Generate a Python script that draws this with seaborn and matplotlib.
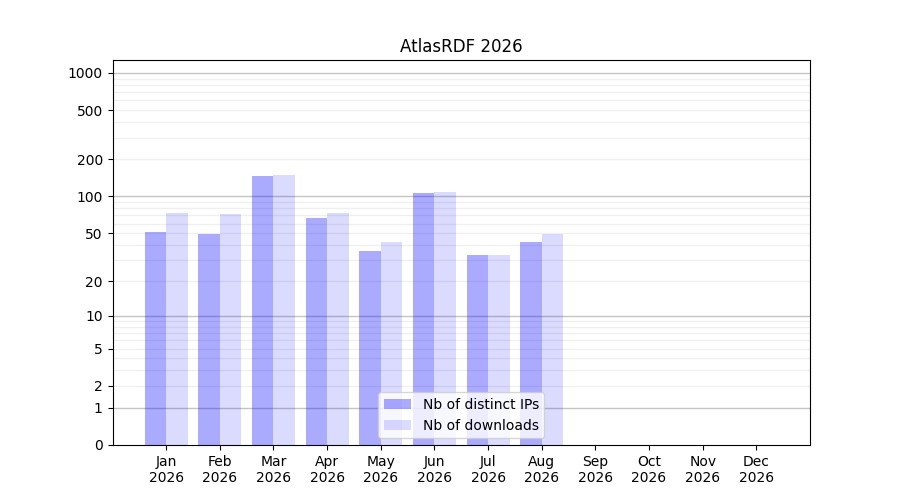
import numpy as np
import pandas as pd
import seaborn as sns
import matplotlib
matplotlib.use('Agg')
import matplotlib.pyplot as plt
from matplotlib.patches import Patch

months = ['Jan', 'Feb', 'Mar', 'Apr', 'May', 'Jun',
          'Jul', 'Aug', 'Sep', 'Oct', 'Nov', 'Dec']
year = 2026
distinct_ips = [51, 49, 147, 67, 36, 107, 33, 42, 0, 0, 0, 0]
downloads = [73, 72, 149, 73, 42, 109, 33, 49, 0, 0, 0, 0]
ytick_vals = [0, 1, 2, 5, 10, 20, 50, 100, 200, 500, 1000]

labels = ['Nb of distinct IPs', 'Nb of downloads']
df = pd.DataFrame({
    'mois': months * 2,
    'valeur': distinct_ips + downloads,
    'serie': [labels[0]] * 12 + [labels[1]] * 12,
})

fig, ax = plt.subplots(figsize=(9, 5), dpi=100)
sns.barplot(data=df, x='mois', y='valeur', hue='serie', order=months,
            hue_order=labels, palette=['blue', 'blue'], saturation=1,
            width=0.8, legend=False, ax=ax)

alphas = [1 / 3, 0.14]
for cont, a in zip(ax.containers, alphas):
    for p in cont:
        p.set_facecolor((0, 0, 1, a))
        p.set_edgecolor('none')

# echelle log(x+1)
ax.set_yscale('function', functions=(lambda v: np.log10(np.clip(v, 0, None) + 1),
                                     lambda v: 10 ** v - 1))
ax.set_ylim(0, 1272)
ax.set_xlim(-1, 12)
ax.set_yticks(ytick_vals)
ax.set_yticklabels([str(v) for v in ytick_vals])

# grille
mineurs = [m * d for d in (1, 10, 100) for m in range(2, 10)]
for v in mineurs:
    ax.axhline(v, color='gray', alpha=0.12, lw=1, zorder=0)
for v in (1, 10, 100, 1000):
    ax.axhline(v, color='gray', alpha=0.45, lw=1, zorder=0)

ax.set_xticks(range(12))
ax.set_xticklabels([f'{m}\n{year}' for m in months])
ax.set_xlabel('')
ax.set_ylabel('')
ax.set_title(f'AtlasRDF {year}')

handles = [Patch(facecolor=(0, 0, 1, a), label=l) for a, l in zip(alphas, labels)]
ax.legend(handles=handles, loc='lower center')

plt.savefig('out.png', dpi=100)
